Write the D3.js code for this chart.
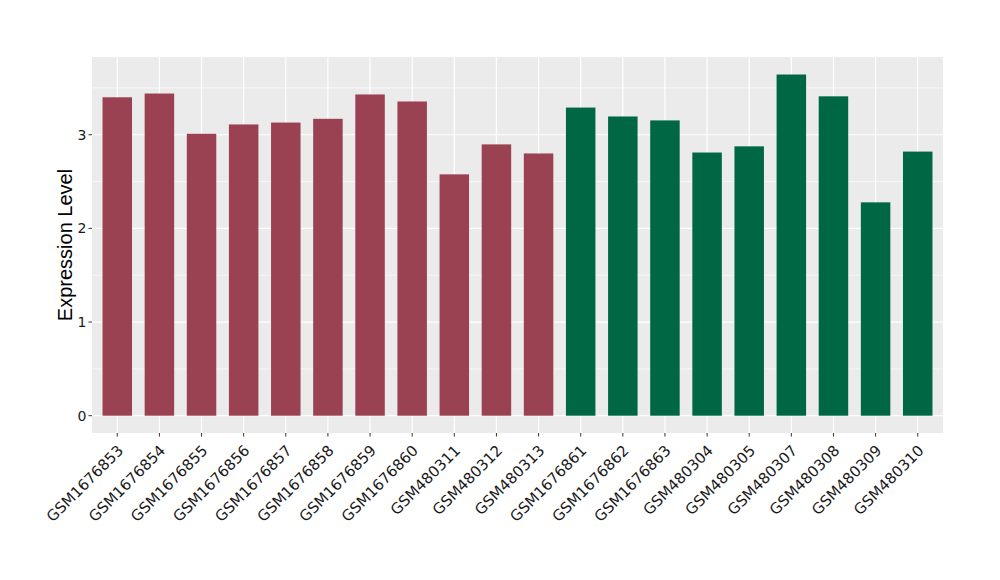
<!DOCTYPE html>
<html><head><meta charset="utf-8">
<script src="https://cdn.jsdelivr.net/npm/d3@7"></script>
<style>body{margin:0;background:#fff;} text{font-family:"DejaVu Sans",sans-serif;}</style>
</head><body>
<svg id="c" width="1000" height="580"></svg>
<script>
const categories = ["GSM1676853","GSM1676854","GSM1676855","GSM1676856","GSM1676857","GSM1676858","GSM1676859","GSM1676860","GSM480311","GSM480312","GSM480313","GSM1676861","GSM1676862","GSM1676863","GSM480304","GSM480305","GSM480307","GSM480308","GSM480309","GSM480310"];
const values = [3.40,3.44,3.01,3.11,3.13,3.17,3.43,3.355,2.577,2.897,2.80,3.29,3.195,3.153,2.81,2.876,3.643,3.41,2.278,2.82];
const groups = ["A","A","A","A","A","A","A","A","A","A","A","B","B","B","B","B","B","B","B","B"];
const yTicks = [0,1,2,3];
const yMinor = [0.5,1.5,2.5,3.5];
const colors = {A:"#9A4251", B:"#006744"};

const L=92, R=943, T=57, B=433;
const svg = d3.select("#c");
const n = categories.length;
const x = d3.scaleLinear().domain([0.4, n+0.6]).range([L,R]);
const y = d3.scaleLinear().domain([0, 3.83]).range([415.7, T]);

svg.append("rect").attr("x",L).attr("y",T).attr("width",R-L).attr("height",B-T).attr("fill","#EBEBEB");
const g = svg.append("g");
yMinor.forEach(v=>{ g.append("line").attr("x1",L).attr("x2",R).attr("y1",y(v)).attr("y2",y(v)).attr("stroke","#fff").attr("stroke-width",0.6);});
yTicks.forEach(v=>{ g.append("line").attr("x1",L).attr("x2",R).attr("y1",y(v)).attr("y2",y(v)).attr("stroke","#fff").attr("stroke-width",1.2);});
categories.forEach((c,i)=>{ g.append("line").attr("x1",x(i+1)).attr("x2",x(i+1)).attr("y1",T).attr("y2",B).attr("stroke","#fff").attr("stroke-width",1.2);});

const bw = (x(1.35)-x(1));
svg.append("g").selectAll("rect").data(values).join("rect")
  .attr("x",(d,i)=>x(i+1)-bw).attr("width",2*bw)
  .attr("y",d=>y(d)).attr("height",d=>y(0)-y(d))
  .attr("fill",(d,i)=>colors[groups[i]]);

// y axis
const ya = svg.append("g");
yTicks.forEach(v=>{
  ya.append("line").attr("x1",L-3.5).attr("x2",L).attr("y1",y(v)).attr("y2",y(v)).attr("stroke","#333").attr("stroke-width",1);
  ya.append("text").attr("x",L-5.5).attr("y",y(v)).attr("dy","0.36em").attr("text-anchor","end").attr("font-size",14).attr("fill","#1a1a1a").text(v);
});
svg.append("text").attr("transform",`translate(72,${(T+B)/2}) rotate(-90)`).attr("text-anchor","middle")
  .style("font-family","'Liberation Sans',Arial,sans-serif").attr("font-size",20).attr("fill","#000").text("Expression Level");

// x axis
const xa = svg.append("g");
categories.forEach((c,i)=>{
  const px = x(i+1);
  xa.append("line").attr("x1",px).attr("x2",px).attr("y1",B).attr("y2",B+3.5).attr("stroke","#333").attr("stroke-width",1);
  xa.append("text").attr("transform",`translate(${px-0.5},${B+11}) rotate(-45)`).attr("text-anchor","end").attr("dy","0.7em").attr("font-size",15).attr("fill","#1a1a1a").text(c);
});
</script>
</body></html>
